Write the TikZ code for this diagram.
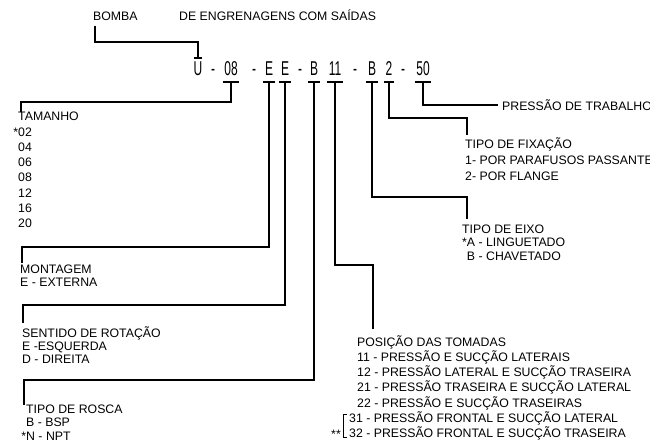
\documentclass[tikz,border=0pt]{standalone}
\usepackage{fontspec}
\setmainfont{Liberation Sans}
\newfontfamily\codefont[FakeStretch=0.6]{Liberation Sans}

\begin{document}
\begin{tikzpicture}[x=1pt, y=-1pt,
    codetok/.style={font=\codefont\fontsize{20}{20}\selectfont, inner sep=0pt,
      inner xsep=1.5pt, anchor=base, text height=17pt, text depth=7pt},
    lead/.style={line width=1.7pt},
    lbl/.style={anchor=north west, inner sep=0pt, align=left,
      font=\fontsize{12.3}{15.3}\selectfont, execute at begin node=\rule{0pt}{12pt}},
    tight/.style={font=\fontsize{12.3}{13.2}\selectfont}]
  \fill[white] (0,0) rectangle (650,447);
  \useasboundingbox (0,0) rectangle (650,447);
  % Code
  \foreach \n/\x/\t in {u/198/U, d1/213/-, t08/231/08, d2/254/-, e1/269/E, e2/285/E,
      d3/300/-, b1/314/B, t11/335/11, d4/355/-, b2/372/B, t2/389/2, d5/403/-, t50/423/50}
    \node[codetok] (\n) at (\x,75) {\t};
  \foreach \n in {t08,e1,e2,b1,t11,b2,t2,t50}
    \draw[lead] (\n.south west) -- (\n.south east);
  \draw[lead] ([xshift=-4pt]u.north) -- ([xshift=4pt]u.north);
  % Labels
  \node[lbl] (bomba) at (93,8) {BOMBA};
  \node[lbl] (engren) at (179,8) {DE ENGRENAGENS COM SAÍDAS};
  \node[lbl] (tamanho) at (18,112) {TAMANHO\\\llap{*}02\\04\\06\\08\\12\\16\\20};
  \node[lbl, tight] (montagem) at (20,265) {MONTAGEM\\E - EXTERNA};
  \node[lbl, tight] (sentido) at (22,326) {SENTIDO DE ROTAÇÃO\\E -ESQUERDA\\D - DIREITA};
  \node[lbl, tight] (rosca) at (26,405) {TIPO DE ROSCA\\B - BSP\\\llap{*}N - NPT};
  \node[lbl] (posicao) at (357,335) {POSIÇÃO DAS TOMADAS\\11 - PRESSÃO E SUCÇÃO LATERAIS\\
    12 - PRESSÃO LATERAL E SUCÇÃO TRASEIRA\\21 - PRESSÃO TRASEIRA E SUCÇÃO LATERAL\\
    22 - PRESSÃO E SUCÇÃO TRASEIRAS};
  \node[lbl] (t31) at (349,411) {31 - PRESSÃO FRONTAL E SUCÇÃO LATERAL\\
    32 - PRESSÃO FRONTAL E SUCÇÃO TRASEIRA};
  \node[lbl, anchor=base east] (stars) at (341,438) {**};
  \node[lbl, tight] (eixo) at (462,225) {TIPO DE EIXO\\*A - LINGUETADO\\\phantom{*}B - CHAVETADO};
  \node[lbl, font=\fontsize{12.3}{16}\selectfont] (fixacao) at (465,137)
    {TIPO DE FIXAÇÃO\\1- POR PARAFUSOS PASSANTES\\2- POR FLANGE};
  \node[lbl, anchor=west] (trabalho) at (502,105) {PRESSÃO DE TRABALHO};
  % Leads
  \coordinate (kU) at (95,42);
  \coordinate (k08) at (21,102);
  \coordinate (ke1) at (22,247);
  \coordinate (ke2) at (23,305);
  \coordinate (kb1) at (24,380);
  \coordinate (k11) at (373,265);
  \coordinate (kb2) at (467,197);
  \coordinate (k2) at (467,118);
  \draw[lead, shorten <=5pt] (kU |- bomba.south) -- (kU) -| (u.north);
  \draw[lead] (t08.south) |- (k08) -- (k08 |- tamanho.north);
  \draw[lead, shorten >=2pt] (e1.south) |- (ke1) -- (ke1 |- montagem.north);
  \draw[lead, shorten >=3pt] (e2.south) |- (ke2) -- (ke2 |- sentido.north);
  \draw[lead] (b1.south) |- (kb1) -- (kb1 |- rosca.north);
  \draw[lead, shorten >=6pt] (t11.south) |- (k11) -- (k11 |- posicao.north);
  \draw[lead, shorten >=6pt] (b2.south) |- (kb2) -- (kb2 |- eixo.north);
  \draw[lead, shorten >=2pt] (t2.south) |- (k2) -- (k2 |- fixacao.north);
  \draw[lead, shorten >=4pt] (t50.south) |- (trabalho.west);
  % Bracket for 31/32
  \draw[line width=0.8pt] ([xshift=-2pt, yshift=-3pt]t31.north west)
    -- ([xshift=-6pt, yshift=-3pt]t31.north west)
    -- ([xshift=-6pt, yshift=3pt]t31.south west) -- ([xshift=-2pt, yshift=3pt]t31.south west);
\end{tikzpicture}
\end{document}
